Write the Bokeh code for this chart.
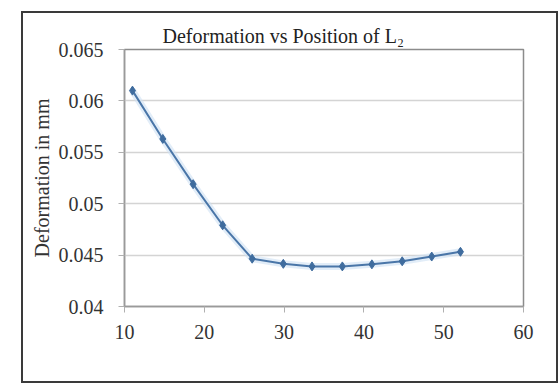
from bokeh.plotting import figure
from bokeh.models import FixedTicker, Range1d, Title, CustomJSTickFormatter, InlineStyleSheet
from bokeh.embed import file_html
from bokeh.resources import INLINE

# Data
position = [11.0, 14.8, 18.6, 22.3, 26.0, 29.9, 33.5, 37.3, 41.0, 44.8, 48.5, 52.1]
deformation = [0.0610, 0.0563, 0.0519, 0.0479, 0.04465, 0.04415, 0.0439, 0.0439,
               0.0441, 0.0444, 0.04486, 0.04532]
x_ticks = [10, 20, 30, 40, 50, 60]
y_ticks = [0.04, 0.045, 0.05, 0.055, 0.06, 0.065]

FONT = "Liberation Serif"

# outer chart-area border drawn as an overlay on the figure's host element
border_css = InlineStyleSheet(css="""
:host { position: relative; }
:host::after {
  content: "";
  position: absolute;
  left: 21px; top: 11px; width: 537px; height: 372px;
  border: 2px solid #3a3a3a;
  box-sizing: border-box;
  pointer-events: none;
}
""")

p = figure(width=558, height=384, output_backend="svg", toolbar_location=None,
           x_range=Range1d(10, 60), y_range=Range1d(0.04, 0.065),
           min_border_left=124, min_border_right=35, min_border_top=49,
           min_border_bottom=78, title=None, stylesheets=[border_css])

t = Title(text="Deformation vs Position of L\u2082", align="left", offset=38,
          text_font=FONT, text_font_size="20px", text_font_style="normal",
          text_color="#222222", standoff=5)
p.add_layout(t, "above")

p.background_fill_color = "white"
p.border_fill_color = "white"
p.outline_line_color = "#8c8c8c"
p.outline_line_width = 1.5

p.xaxis.ticker = FixedTicker(ticks=x_ticks)
p.yaxis.ticker = FixedTicker(ticks=y_ticks)
p.yaxis.formatter = CustomJSTickFormatter(code="return String(Number(tick.toFixed(3)));")

for ax in (p.xaxis, p.yaxis):
    ax.axis_line_color = "#9a9a9a"
    ax.axis_line_width = 1.5
    ax.major_tick_line_color = "#b0b0b0"
    ax.major_tick_out = 6
    ax.major_tick_in = 0
    ax.minor_tick_line_color = None
    ax.major_label_text_font = FONT
    ax.major_label_text_font_size = "20px"
    ax.major_label_text_color = "#333333"

p.xaxis.major_label_standoff = 12
p.yaxis.major_label_standoff = 15
p.yaxis.axis_label = "Deformation in mm"
p.yaxis.axis_label_text_font = FONT
p.yaxis.axis_label_text_font_size = "20px"
p.yaxis.axis_label_text_font_style = "normal"
p.yaxis.axis_label_text_color = "#333333"
p.yaxis.axis_label_standoff = 3

p.xgrid.grid_line_color = None
p.ygrid.grid_line_color = "#d4d4d4"
p.ygrid.grid_line_width = 1.5

# soft glow behind the series line
p.line(position, deformation, line_color="#cfe1f3", line_width=7, line_alpha=0.6)
p.line(position, deformation, line_color="#4a76a8", line_width=2)
p.scatter(position, deformation, marker="diamond", size=9,
          fill_color="#3f6c9e", line_color="#3f6c9e")

open("out.html", "w").write(file_html(p, INLINE))
